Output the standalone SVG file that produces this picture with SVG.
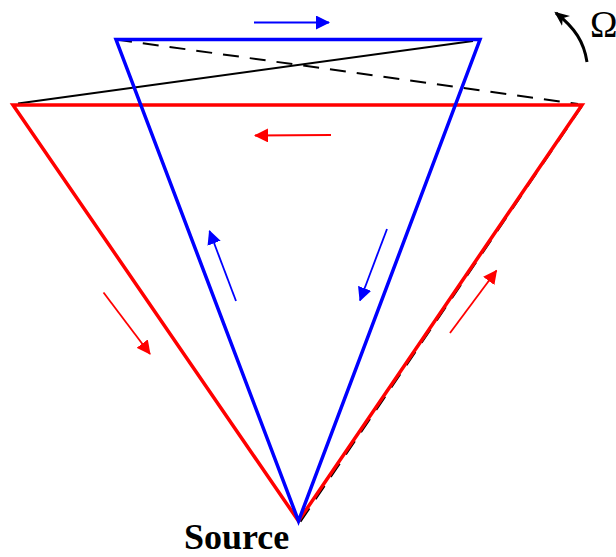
<svg xmlns="http://www.w3.org/2000/svg" width="616" height="557" viewBox="0 0 616 557">
<style>
.red{fill:none;stroke:#ff0000;stroke-width:3.5;stroke-linejoin:miter}
.blue{fill:none;stroke:#0000ff;stroke-width:3.5;stroke-linejoin:miter}
.blk{fill:none;stroke:#000;stroke-width:2}
.dash{fill:none;stroke:#000;stroke-width:2;stroke-dasharray:16 11}
.ra{stroke:#ff0000;stroke-width:1.8;fill:none}
.ba{stroke:#0000ff;stroke-width:1.8;fill:none}
.lbl{font-family:"Liberation Serif","Times New Roman",serif;fill:#000}
</style>
<defs>
<marker id="hr" viewBox="0 0 14 14" refX="13" refY="7" markerWidth="14" markerHeight="14" markerUnits="userSpaceOnUse" orient="auto"><path d="M0,0 L14,7 L0,14 z" fill="#ff0000"/></marker>
<marker id="hb" viewBox="0 0 14 14" refX="13" refY="7" markerWidth="14" markerHeight="14" markerUnits="userSpaceOnUse" orient="auto"><path d="M0,0 L14,7 L0,14 z" fill="#0000ff"/></marker>
<marker id="hk" viewBox="0 0 14 14" refX="12" refY="7" markerWidth="15" markerHeight="15" markerUnits="userSpaceOnUse" orient="auto"><path d="M0,1 L14,7 L0,13 L4,7 z" fill="#000"/></marker>
</defs>
<g id="connectors">
<g id="black-paths">
<line class="dash" x1="582" y1="106" x2="299.5" y2="523"/>
<line class="blk" x1="18" y1="103.5" x2="473" y2="41"/>
<line class="dash" x1="120" y1="40" x2="578" y2="104" stroke-dashoffset="4"/>
</g>
<g id="red-loop">
<path class="red" d="M298.5,521 L13,105 L582,105 Z"/>
</g>
<g id="blue-loop">
<path class="blue" d="M298.5,521 L116,39.5 L480,39.5 Z"/>
</g>
<g id="beam-arrows">
<line class="ba" x1="254" y1="22.5" x2="329" y2="22.5" marker-end="url(#hb)"/>
<line class="ra" x1="331" y1="135" x2="255" y2="135.5" marker-end="url(#hr)"/>
<line class="ba" x1="236" y1="301" x2="209.5" y2="231" marker-end="url(#hb)"/>
<line class="ba" x1="387" y1="229" x2="360" y2="300.5" marker-end="url(#hb)"/>
<line class="ra" x1="103.5" y1="292.5" x2="150" y2="354" marker-end="url(#hr)"/>
<line class="ra" x1="450" y1="333" x2="496.5" y2="270.5" marker-end="url(#hr)"/>
</g>
<g id="rotation">
<path class="blk" style="stroke-width:3" d="M587,62 C584,42 575,28 556,13" marker-end="url(#hk)"/>
</g>
</g>
<g id="labels">
<text class="lbl" x="590" y="37" font-size="37">Ω</text>
<text id="source" class="lbl" x="184" y="549" font-size="36" font-weight="bold">Source</text>
</g>
</svg>
